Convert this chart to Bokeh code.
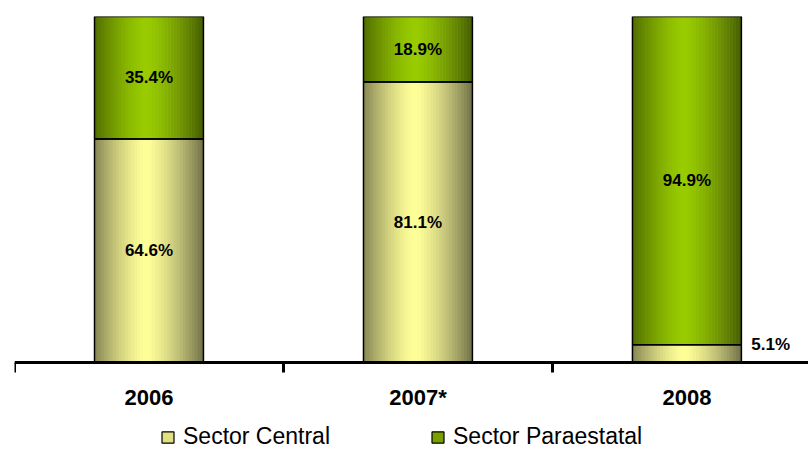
import numpy as np
from bokeh.plotting import figure
from bokeh.models import FixedTicker, Legend, LegendItem, Range1d
from bokeh.core.properties import value
from bokeh.embed import file_html
from bokeh.resources import INLINE

years = ["2006", "2007*", "2008"]
central = [64.6, 81.1, 5.1]
paraestatal = [35.4, 18.9, 94.9]
series_names = ["Sector Central", "Sector Paraestatal"]

centers = [0.5, 1.5, 2.5]
bar_w = 0.405

# frame spans from the top of the bars down to the bottom of the window,
# so the legend (drawn inside the frame) sits below the category axis
p = figure(frame_width=794, frame_height=435, output_backend="svg", toolbar_location=None,
           x_range=Range1d(0, 2.952), y_range=Range1d(-25.72, 100),
           min_border_left=14, min_border_right=0, min_border_top=16, min_border_bottom=0)
p.outline_line_color = None
p.grid.visible = False
p.yaxis.visible = False
p.background_fill_color = "white"

def lerp(c1, c2, t):
    return "#%02x%02x%02x" % tuple(int(round(a + (b - a) * t)) for a, b in zip(c1, c2))

light_c, dark_c = (255, 255, 153), (112, 112, 72)
light_p, dark_p = (153, 204, 0), (68, 92, 0)

N = 36
lefts, rights, bots, tops, colors = [], [], [], [], []
for i, x in enumerate(centers):
    x0 = x - bar_w / 2
    segs = [(0, central[i], light_c, dark_c),
            (central[i], central[i] + paraestatal[i], light_p, dark_p)]
    for b, t, lc, dc in segs:
        for k in range(N):
            u = (k + 0.5) / N
            d = abs(u - 0.47) / 0.53
            col = lerp(lc, dc, min(1.0, d ** 1.4))
            lefts.append(x0 + bar_w * k / N)
            rights.append(x0 + bar_w * (k + 1) / N + 0.002)
            bots.append(b)
            tops.append(t)
            colors.append(col)

p.quad(left=lefts, right=rights, bottom=bots, top=tops, fill_color=colors, line_color=None)

ol = [x - bar_w / 2 for x in centers]
orr = [x + bar_w / 2 for x in centers]
p.quad(left=ol, right=orr, bottom=[0] * 3, top=central, fill_color=None, line_color="black", line_width=1.5)
p.quad(left=ol, right=orr, bottom=central, top=[c + q for c, q in zip(central, paraestatal)],
       fill_color=None, line_color="black", line_width=1.5)

r1 = p.quad(left=[0], right=[0], bottom=[0], top=[0], fill_color="#e0e080", line_color="black", line_width=1.2)
r2 = p.quad(left=[0], right=[0], bottom=[0], top=[0], fill_color="#7aa000", line_color="black", line_width=1.2)

lab_x, lab_y, lab_t = [], [], []
for i, x in enumerate(centers):
    if central[i] > 10:
        lab_x.append(x); lab_y.append(central[i] / 2); lab_t.append("%.1f%%" % central[i])
    lab_x.append(x); lab_y.append(central[i] + paraestatal[i] / 2); lab_t.append("%.1f%%" % paraestatal[i])
p.text(x=lab_x, y=lab_y, text=lab_t, text_align="center", text_baseline="middle",
       text_font=value("Liberation Sans"), text_font_style="bold", text_font_size="17px", text_color="black")
small = [(centers[i] + bar_w / 2 + 0.037, central[i], "%.1f%%" % central[i]) for i in range(3) if central[i] <= 10]
p.text(x=[s[0] for s in small], y=[s[1] for s in small], text=[s[2] for s in small],
       text_align="left", text_baseline="middle",
       text_font=value("Liberation Sans"), text_font_style="bold", text_font_size="17px", text_color="black")

ax = p.xaxis[0]
ax.fixed_location = 0
ax.ticker = FixedTicker(ticks=centers, minor_ticks=[0, 1, 2, 3])
ax.major_label_overrides = {c: y for c, y in zip(centers, years)}
ax.major_tick_out = 0
ax.major_tick_in = 0
ax.minor_tick_out = 10
ax.minor_tick_in = 0
ax.minor_tick_line_width = 3
ax.minor_tick_line_color = "black"
ax.axis_line_width = 3
ax.axis_line_color = "black"
ax.major_label_standoff = 12
ax.major_label_text_font = "Liberation Sans"
ax.major_label_text_font_style = "bold"
ax.major_label_text_font_size = "22px"
ax.major_label_text_color = "black"

legend = Legend(items=[LegendItem(label=series_names[0], renderers=[r1]),
                       LegendItem(label=series_names[1], renderers=[r2])],
                orientation="horizontal", location=(146, 1),
                label_text_font="Liberation Sans", label_text_font_size="23px",
                label_text_color="black", label_height=14,
                glyph_width=15, glyph_height=14, spacing=100, label_standoff=8,
                border_line_color=None, background_fill_alpha=0, padding=0, margin=0)
p.add_layout(legend, "center")

open("out.html", "w").write(file_html(p, INLINE))
